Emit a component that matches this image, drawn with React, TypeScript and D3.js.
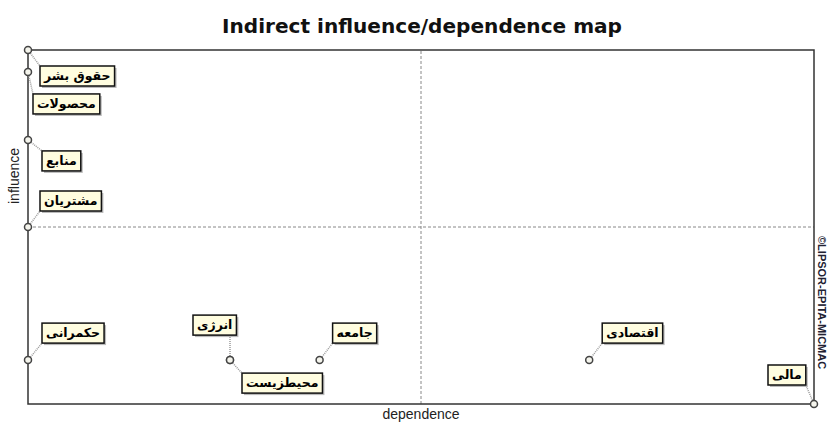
import React, { useEffect, useRef } from 'react';
import * as d3 from 'd3';

// variables of the MICMAC indirect map
const variables = ['حقوق بشر', 'محصولات', 'منابع', 'مشتریان', 'حکمرانی', 'انرژی', 'محیطزیست', 'جامعه', 'اقتصادی', 'مالی'];
const dependence = [0, 0, 0, 0, 0, 25.7, 25.7, 37.1, 71.4, 100];
const influence = [100, 93.8, 74.6, 50, 12.4, 12.4, 12.4, 12.4, 12.4, 0];
// label box offset (top-left corner) from its point
const labelDx = [12, 5, 14, 12, 14, -37, 12, 13, 13, -46];
const labelDy = [16, 22, 11, -36, -37, -45, 13, -37, -37, -39];

export default function App() {
  const ref = useRef<SVGSVGElement>(null);

  const width = 833;
  const height = 425;
  const marginTop = 50;
  const marginRight = 19;
  const marginBottom = 21;
  const marginLeft = 28;

  useEffect(() => {
    const svg = d3.select(ref.current);
    svg.selectAll('*').remove();

    const x = d3.scaleLinear().domain([0, 100]).range([marginLeft, width - marginRight]);
    const y = d3.scaleLinear().domain([0, 100]).range([height - marginBottom, marginTop]);

    svg.append('text')
      .attr('x', 422).attr('y', 33)
      .attr('text-anchor', 'middle')
      .attr('font-family', 'DejaVu Sans, sans-serif')
      .attr('font-weight', 'bold')
      .attr('font-size', 19)
      .attr('textLength', 400)
      .attr('lengthAdjust', 'spacingAndGlyphs')
      .attr('fill', '#111')
      .text('Indirect influence/dependence map');

    // mid lines
    svg.append('line')
      .attr('x1', x(50)).attr('x2', x(50))
      .attr('y1', y(0)).attr('y2', y(100))
      .attr('stroke', '#888').attr('stroke-dasharray', '3,2');
    svg.append('line')
      .attr('x1', x(0)).attr('x2', x(100))
      .attr('y1', y(50)).attr('y2', y(50))
      .attr('stroke', '#888').attr('stroke-dasharray', '3,2');

    svg.append('rect')
      .attr('x', x(0)).attr('y', y(100))
      .attr('width', x(100) - x(0)).attr('height', y(0) - y(100))
      .attr('fill', 'none').attr('stroke', '#333').attr('stroke-width', 1.5);

    svg.append('text')
      .attr('x', x(50)).attr('y', 419)
      .attr('text-anchor', 'middle')
      .attr('font-family', 'Arial, Liberation Sans, sans-serif')
      .attr('font-size', 14).attr('fill', '#222')
      .text('dependence');

    svg.append('text')
      .attr('transform', `translate(19,176) rotate(-90)`)
      .attr('text-anchor', 'middle')
      .attr('font-family', 'Arial, Liberation Sans, sans-serif')
      .attr('font-size', 14).attr('fill', '#222')
      .text('influence');

    svg.append('text')
      .attr('transform', `translate(818,236) rotate(90)`)
      .attr('font-family', 'Arial, Liberation Sans, sans-serif')
      .attr('font-size', 11).attr('font-weight', 'bold').attr('fill', '#223')
      .text('©LIPSOR-EPITA-MICMAC');

    const items = variables.map((name, i) => ({
      name, px: x(dependence[i]), py: y(influence[i]), dx: labelDx[i], dy: labelDy[i]
    }));

    const g = svg.append('g');
    items.forEach(d => {
      const t = g.append('text')
        .attr('font-family', 'DejaVu Sans, sans-serif')
        .attr('font-weight', 'bold')
        .attr('font-size', 12.5)
        .attr('fill', '#000')
        .attr('direction', 'rtl')
        .text(d.name);
      const w = (t.node() as SVGTextElement).getComputedTextLength() + 8;
      const h = 20;
      const bx = d.px + d.dx;
      const by = d.py + d.dy;
      const cx = Math.max(bx, Math.min(d.px, bx + w));
      const cy = Math.max(by, Math.min(d.py, by + h));
      g.insert('line', 'text')
        .attr('x1', d.px).attr('y1', d.py).attr('x2', cx).attr('y2', cy)
        .attr('stroke', '#999').attr('stroke-width', 1.5).attr('stroke-dasharray', '1,1');
      g.insert('rect', 'text')
        .attr('x', bx + 2).attr('y', by + 2).attr('width', w).attr('height', h)
        .attr('fill', '#bbb');
      g.insert('rect', 'text')
        .attr('x', bx).attr('y', by).attr('width', w).attr('height', h)
        .attr('fill', '#fffde0').attr('stroke', '#111').attr('stroke-width', 1.5);
      t.attr('x', bx + w - 4).attr('y', by + 14);
    });

    g.selectAll('circle')
      .data(items)
      .join('circle')
      .attr('cx', d => d.px).attr('cy', d => d.py).attr('r', 3.5)
      .attr('fill', '#f4f4ec').attr('stroke', '#444').attr('stroke-width', 1.5);
  }, []);

  return (
    <svg ref={ref} width={width} height={height}
      style={{ position: 'absolute', left: 0, top: 0, background: '#fff' }} />
  );
}
